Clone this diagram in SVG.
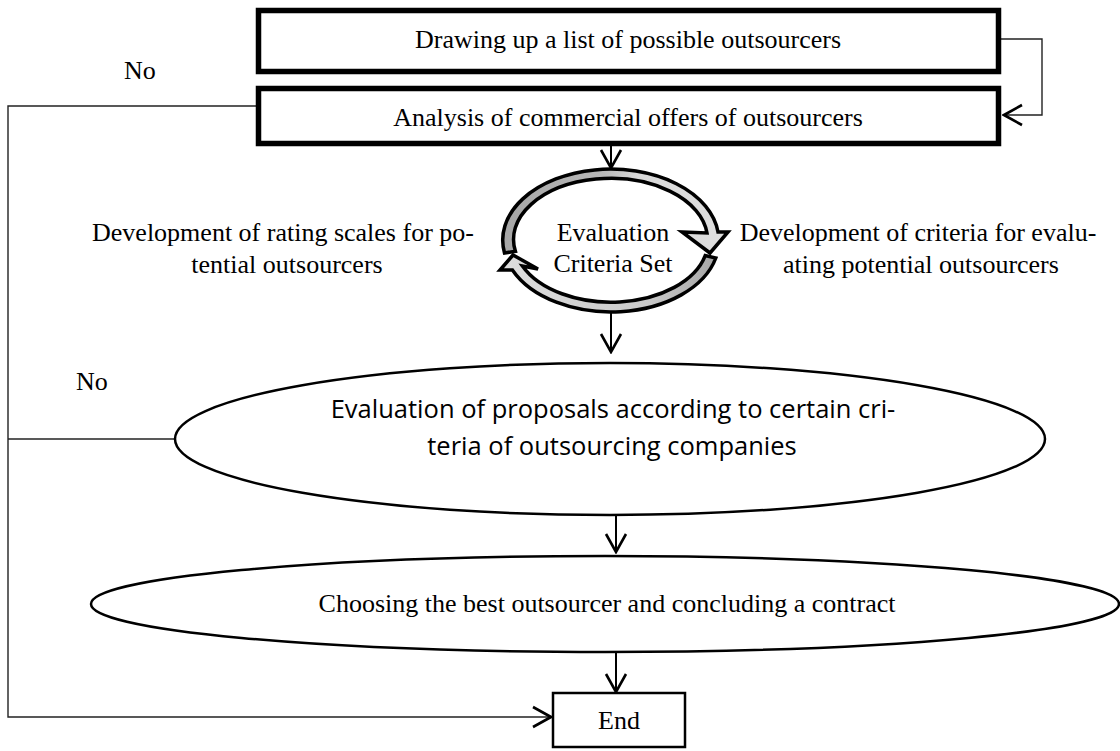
<svg xmlns="http://www.w3.org/2000/svg" width="1120" height="751" viewBox="0 0 1120 751">
<style>
.serif{font-family:"Liberation Serif","Times New Roman",serif;font-size:26px;fill:#000;text-anchor:middle}
.sans{font-family:"Open Sans","Liberation Sans",sans-serif;font-size:25.5px;fill:#000;text-anchor:middle}
.lab{font-family:"Liberation Serif","Times New Roman",serif;font-size:26px;fill:#000}
.thickbox{fill:#fff;stroke:#000;stroke-width:5.5}
.ell{fill:#fff;stroke:#000;stroke-width:2.5}
.conn{fill:none;stroke:#000;stroke-width:2}
.thin{fill:none;stroke:#222;stroke-width:1.4}
.ring{stroke:#000;stroke-width:3.5;stroke-linejoin:miter}
</style>
<defs>
<marker id="chev" markerUnits="userSpaceOnUse" markerWidth="22" markerHeight="24" viewBox="0 0 22 24" refX="20" refY="12" orient="auto">
<path d="M2,2 L20,12 L2,22" fill="none" stroke="#000" stroke-width="2.6"/>
</marker>
<linearGradient id="gA" x1="0" y1="0" x2="1" y2="0">
<stop offset="0" stop-color="#a6a6a6"/><stop offset="0.45" stop-color="#b8b8b8"/><stop offset="0.6" stop-color="#d9d9d9"/><stop offset="1" stop-color="#dedede"/>
</linearGradient>
<linearGradient id="gB" x1="1" y1="0" x2="0" y2="0">
<stop offset="0" stop-color="#a6a6a6"/><stop offset="0.3" stop-color="#c8c8c8"/><stop offset="1" stop-color="#dedede"/>
</linearGradient>
</defs>

<g id="connectors">
<polyline class="thin" points="1001,39 1042,39 1042,115 1004,115" marker-end="url(#chev)"/>
<polyline class="thin" points="256,106 8,106 8,717 551,717" marker-end="url(#chev)"/>
<line class="thin" x1="175" y1="439" x2="8" y2="439"/>
<line class="conn" x1="611" y1="146" x2="611" y2="168" marker-end="url(#chev)"/>
<line class="conn" x1="611" y1="313" x2="611" y2="352" marker-end="url(#chev)"/>
<line class="conn" x1="616" y1="515" x2="616" y2="552" marker-end="url(#chev)"/>
<line class="conn" x1="616" y1="652" x2="616" y2="692" marker-end="url(#chev)"/>
</g>

<g id="node-list">
<rect class="thickbox" x="258.5" y="10.5" width="740" height="61"/>
<text class="serif" x="628" y="48">Drawing up a list of possible outsourcers</text>
</g>

<g id="node-analysis">
<rect class="thickbox" x="258.5" y="88.5" width="740" height="55"/>
<text class="serif" x="628" y="126">Analysis of commercial offers of outsourcers</text>
</g>

<g id="node-criteria-set">
<path class="ring" fill="url(#gA)" d="M504.5,253 A108 71 0 1 1 718,232 L728,232 L710,253 L682,232 L707,233 A97 61 0 1 0 515.4,251.3 Z"/>
<path class="ring" fill="url(#gB)" d="M715.8,258 A108 71 0 0 1 512.4,270 L500,270 L513,255 L538,269 L522.4,266 A97 61 0 0 0 705.2,255.6 Z"/>
<text class="serif" x="613" y="241">Evaluation</text>
<text class="serif" x="613" y="272">Criteria Set</text>
</g>

<g id="label-rating">
<text class="serif" x="283" y="241">Development of rating scales for po-</text>
<text class="serif" x="287" y="273">tential outsourcers</text>
</g>

<g id="label-criteria">
<text class="serif" x="918" y="241">Development of criteria for evalu-</text>
<text class="serif" x="921" y="273">ating potential outsourcers</text>
</g>

<g id="node-evaluation">
<ellipse class="ell" cx="610" cy="439" rx="435" ry="76"/>
<text class="sans" x="613" y="418">Evaluation of proposals according to certain cri-</text>
<text class="sans" x="612" y="455">teria of outsourcing companies</text>
</g>

<g id="node-choosing">
<ellipse class="ell" cx="605" cy="604" rx="514" ry="48"/>
<text class="serif" x="607" y="612">Choosing the best outsourcer and concluding a contract</text>
</g>

<g id="node-end">
<rect x="553" y="693" width="132" height="54" fill="#fff" stroke="#000" stroke-width="2.5"/>
<text class="serif" x="619" y="729">End</text>
</g>

<g id="labels-no">
<text class="lab" x="124" y="79">No</text>
<text class="lab" x="76" y="390">No</text>
</g>
</svg>
